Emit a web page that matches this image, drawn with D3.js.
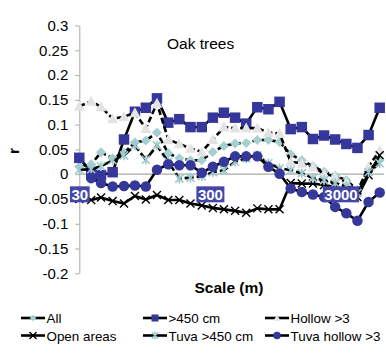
<!DOCTYPE html>
<html>
<head>
<meta charset="utf-8">
<script src="https://cdn.jsdelivr.net/npm/d3@7"></script>
<style>
  html, body { margin: 0; padding: 0; background: #fff; }
  svg { display: block; font-family: "Liberation Sans", Arial, Helvetica, sans-serif; }
</style>
</head>
<body>
<svg id="chart" width="386" height="354"></svg>
<script>
// ---- data ----
const scales = [30, 37, 44, 54, 66, 80, 97, 118, 144, 175, 213, 260, 316, 384, 468, 569, 692, 842, 1025, 1247, 1517, 1846, 2246, 2732, 3325, 4045, 4922, 5989];
const xTickValues = [30, 300, 3000];
const xTickLabels = ["30", "300", "3000"];
const yTickValues = [-0.2, -0.15, -0.1, -0.05, 0, 0.05, 0.1, 0.15, 0.2, 0.25, 0.3];
const yTickLabels = ["-0.2", "-0.15", "-0.1", "-0.05", "0", "0.05", "0.1", "0.15", "0.2", "0.25", "0.3"];
const seriesNames = ["All", ">450 cm", "Hollow >3", "Open areas", "Tuva >450 cm", "Tuva hollow >3"];
const allValues = [0.015, 0.020, 0.044, 0.032, 0.043, 0.064, 0.068, 0.084, 0.042, 0.032, 0.028, 0.028, 0.045, 0.057, 0.062, 0.063, 0.069, 0.069, 0.065, 0.040, 0.028, 0.016, 0.005, -0.003, -0.012, -0.032, 0.008, 0.028];
const over450Values = [0.033, 0.004, -0.002, 0.004, 0.070, 0.126, 0.134, 0.153, 0.104, 0.111, 0.095, 0.095, 0.114, 0.124, 0.114, 0.102, 0.135, 0.131, 0.146, 0.091, 0.095, 0.071, 0.078, 0.070, 0.061, 0.053, 0.079, 0.134];
const hollowValues = [0.137, 0.147, 0.136, 0.112, 0.116, 0.124, 0.092, 0.143, 0.070, 0.061, 0.052, 0.045, 0.070, 0.095, 0.093, 0.093, 0.093, 0.084, 0.082, 0.025, 0.022, 0.015, 0.001, -0.005, -0.016, -0.035, 0.015, 0.048];
const openValues = [-0.050, -0.052, -0.047, -0.054, -0.059, -0.044, -0.051, -0.042, -0.052, -0.052, -0.059, -0.063, -0.068, -0.071, -0.074, -0.078, -0.069, -0.071, -0.071, -0.018, -0.019, -0.019, -0.022, -0.026, -0.032, -0.046, -0.002, 0.038];
const tuva450Values = [0.009, 0.010, 0.016, 0.028, 0.038, 0.058, 0.029, 0.058, 0.025, -0.009, -0.007, -0.004, 0.004, 0.008, 0.025, 0.032, 0.038, 0.022, 0.012, 0.008, 0.002, -0.008, -0.012, -0.018, -0.024, -0.038, 0.004, 0.022];
const tuvaHollowValues = [null, -0.008, -0.018, -0.025, -0.024, -0.023, -0.025, 0.009, 0.020, 0.018, 0.018, 0.003, 0.015, 0.025, 0.036, 0.036, 0.036, 0.015, 0.001, -0.029, -0.036, -0.041, -0.046, -0.066, -0.079, -0.094, -0.056, -0.037];

// ---- styles ----
const styles = [
  { values: allValues, marker: "diamond", fill: "#a6cfd2", stroke: "none", dash: "6,3" },
  { values: over450Values, marker: "square", fill: "#35379b", stroke: "none", dash: null },
  { values: hollowValues, marker: "triangle", fill: "#e3e3e3", stroke: "none", dash: "6,3" },
  { values: openValues, marker: "times", fill: "none", stroke: "#000", dash: null },
  { values: tuva450Values, marker: "asterisk", fill: "none", stroke: "#9ccacc", dash: "9,3" },
  { values: tuvaHollowValues, marker: "circle", fill: "#35379b", stroke: "none", dash: null }
];

const svg = d3.select("#chart");
const x = d3.scaleLog().domain([30, 6000]).range([79.3, 379.8]);
const y = d3.scaleLinear().domain([-0.2, 0.3]).range([273.3, 25.5]);

function markerPath(type, s) {
  const h = s / 2;
  switch (type) {
    case "diamond": return `M0,${-h}L${h},0L0,${h}L${-h},0Z`;
    case "square": return `M${-h},${-h}H${h}V${h}H${-h}Z`;
    case "triangle": return `M0,${-h}L${h},${h*0.8}L${-h},${h*0.8}Z`;
    case "circle": return d3.symbol(d3.symbolCircle, Math.PI * h * h)();
    case "times": return `M${-h},${-h}L${h},${h}M${-h},${h}L${h},${-h}`;
    case "asterisk": return `M${-h},${-h}L${h},${h}M${-h},${h}L${h},${-h}M0,${-h*1.2}V${h*1.2}`;
  }
}
const markerSize = { diamond: 10, square: 10.5, triangle: 11, circle: 10.5, times: 8, asterisk: 8 };

// y axis
const yAxis = d3.axisLeft(y).tickValues(yTickValues)
  .tickFormat((d, i) => yTickLabels[i]).tickSize(4).tickSizeOuter(0).tickPadding(7);
const gy = svg.append("g").attr("transform", `translate(${x(30)},0)`).call(yAxis);
gy.selectAll("path.domain").attr("stroke", "#a8a8a8").attr("stroke-width", 1);
gy.selectAll(".tick line").attr("stroke", "#a8a8a8");
gy.selectAll("text").attr("font-size", 15).attr("fill", "#000")
  .attr("font-family", "'Liberation Sans', Arial, sans-serif");

// x axis line at y=0
svg.append("line").attr("x1", x(30)).attr("x2", 384).attr("y1", y(0)).attr("y2", y(0))
  .attr("stroke", "#a8a8a8").attr("stroke-width", 1.2);

// series lines
const line = d3.line().defined(d => d.v !== null).x(d => x(d.s)).y(d => y(d.v));
styles.forEach(st => {
  const data = scales.map((s, i) => ({ s, v: st.values[i] }));
  svg.append("path").datum(data).attr("d", line)
    .attr("fill", "none").attr("stroke", "#000").attr("stroke-width", 2.6)
    .attr("stroke-dasharray", st.dash).attr("stroke-linejoin", "round");
  svg.append("g").selectAll("path").data(data.filter(d => d.v !== null)).join("path")
    .attr("transform", d => `translate(${x(d.s)},${y(d.v)})`)
    .attr("d", markerPath(st.marker, markerSize[st.marker]))
    .attr("fill", st.fill)
    .attr("stroke", st.stroke)
    .attr("stroke-width", st.marker === "times" ? 1.4 : 1.6);
});

// x axis tick labels (boxed)
const xAxis = d3.axisBottom(x).tickValues(xTickValues)
  .tickFormat((d, i) => xTickLabels[i]).tickSize(0).tickPadding(15);
const gx = svg.append("g").attr("transform", `translate(0,${y(0)})`).call(xAxis);
gx.select("path.domain").remove();
gx.selectAll("text").attr("font-size", 15).attr("font-weight", "bold").attr("fill", "#fff")
  .attr("font-family", "'Liberation Sans', Arial, sans-serif");
gx.selectAll(".tick").each(function () {
  const t = d3.select(this).select("text");
  const bb = t.node().getBBox();
  d3.select(this).insert("rect", "text")
    .attr("x", bb.x - 1.5).attr("y", bb.y + 0.5).attr("width", bb.width + 3).attr("height", bb.height - 1)
    .attr("fill", "#4546a8");
});

// titles
svg.append("text").attr("x", 167).attr("y", 49).attr("font-size", 15.5).text("Oak trees");
svg.append("text").attr("transform", "translate(19,151) rotate(-90)").attr("text-anchor", "middle")
  .attr("font-size", 15.5).attr("font-weight", "bold").text("r");
svg.append("text").attr("x", 229).attr("y", 293).attr("text-anchor", "middle")
  .attr("font-size", 15.5).attr("font-weight", "bold").text("Scale (m)");

// legend
const legendPos = [[21, 318], [143, 318], [265, 318], [21, 335.5], [143, 335.5], [265, 335.5]];
const legendMarker = { diamond: 6.5, square: 7, triangle: 7, circle: 7.5, times: 7, asterisk: 6.5 };
styles.forEach((st, i) => {
  const [lx, ly] = legendPos[i];
  const g = svg.append("g").attr("transform", `translate(${lx},${ly})`);
  g.append("line").attr("x1", 0).attr("x2", 24).attr("y1", 0).attr("y2", 0)
    .attr("stroke", "#000").attr("stroke-width", 2.6);
  g.append("path").attr("transform", "translate(12,0)")
    .attr("d", markerPath(st.marker, legendMarker[st.marker]))
    .attr("fill", st.fill).attr("stroke", st.stroke).attr("stroke-width", 1.4);
  g.append("text").attr("x", 25.5).attr("y", 5).attr("font-size", 13.4).text(seriesNames[i]);
});
</script>
</body>
</html>
